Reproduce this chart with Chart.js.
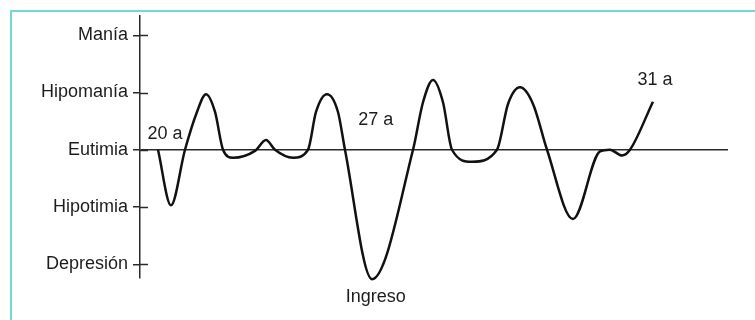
<!DOCTYPE html>
<html>
<head>
<meta charset="utf-8">
<script src="https://cdn.jsdelivr.net/npm/chart.js@4"></script>
<style>
  html, body { margin: 0; padding: 0; background: #fff; }
  #wrap { position: relative; width: 755px; height: 320px; overflow: hidden; }
  #frame { position: absolute; left: 10px; top: 10px; right: -10px; bottom: -10px;
           border-top: 2px solid #72d9d8; border-left: 2px solid #72d9d8; }
  canvas { position: absolute; left: 0; top: 0; }
</style>
</head>
<body>
<div id="wrap">
  <div id="frame"></div>
  <canvas id="c" width="755" height="320"></canvas>
</div>
<script>
// estados de ánimo (eje y)
const moodLevels = [-2, -1, 0, 1, 2];
const moodLabels = ['Depresión', 'Hipotimia', 'Eutimia', 'Hipomanía', 'Manía'];

// curva del curso vital (x: tiempo relativo 0-100, y: nivel de ánimo)
const timeX = [3.06, 5.27, 7.65, 9.69, 11.22, 12.76, 14.12, 15.82, 19.56, 21.43, 22.96,
               26.02, 28.57, 29.93, 31.80, 33.67, 34.86, 39.46, 46.43, 48.13, 49.83, 51.53,
               53.06, 56.46, 60.71, 62.59, 64.63, 66.84, 69.22, 73.64, 78.23, 79.93, 81.97,
               83.33, 87.24];
const moodY = [0, -0.97, 0, 0.66, 0.97, 0.66, 0, -0.14, -0.02, 0.17, 0,
               -0.14, 0, 0.66, 0.97, 0.66, 0, -2.26, 0, 0.83, 1.22, 0.83,
               0, -0.21, 0, 0.8, 1.09, 0.8, 0, -1.21, -0.03, 0, -0.10,
               0, 0.84];

// anotaciones
const noteText = ['20 a', '27 a', '31 a', 'Ingreso'];
const noteX = [4.25, 40.1, 87.6, 40.1];
const noteY = [0.28, 0.52, 1.22, -2.57];

const FONT = "'Liberation Sans', Arial, Helvetica, sans-serif";
const INK = '#1f1c1d';

const crossTicks = {
  id: 'crossTicks',
  afterDraw(chart) {
    const { ctx, scales: { x, y } } = chart;
    ctx.save();
    ctx.strokeStyle = '#2a2a2a';
    ctx.lineWidth = 1.5;
    y.ticks.forEach(t => {
      const py = Math.round(y.getPixelForValue(t.value)) + 0.5;
      ctx.beginPath();
      ctx.moveTo(y.right, py);
      ctx.lineTo(y.right + 8, py);
      ctx.stroke();
    });
    ctx.fillStyle = INK;
    ctx.font = '18px ' + FONT;
    ctx.textAlign = 'center';
    ctx.textBaseline = 'middle';
    noteText.forEach((s, i) => {
      ctx.fillText(s, x.getPixelForValue(noteX[i]), y.getPixelForValue(noteY[i]));
    });
    ctx.restore();
  }
};

new Chart(document.getElementById('c'), {
  type: 'line',
  data: {
    datasets: [{
      data: timeX.map((v, i) => ({ x: v, y: moodY[i] })),
      borderColor: '#111',
      borderWidth: 2.5,
      pointRadius: 0,
      cubicInterpolationMode: 'monotone',
      fill: false,
      clip: false
    }]
  },
  options: {
    responsive: false,
    animation: false,
    events: [],
    layout: { padding: { left: 0, right: 27, top: 12, bottom: 42 } },
    plugins: { legend: { display: false }, tooltip: { enabled: false } },
    scales: {
      x: { type: 'linear', min: 0, max: 100, display: false },
      y: {
        type: 'linear', min: -2.24, max: 2.34,
        afterBuildTicks(scale) { scale.ticks = moodLevels.map(v => ({ value: v })); },
        afterFit(scale) { scale.width = 140; },
        ticks: {
          padding: 5,
          color: INK,
          font: { family: FONT, size: 18 },
          callback: v => moodLabels[moodLevels.indexOf(v)]
        },
        grid: {
          tickLength: 7,
          lineWidth: 1.5,
          color: c => (c.tick && c.tick.value === 0) ? '#2a2a2a' : 'rgba(0,0,0,0)',
          tickColor: '#2a2a2a'
        },
        border: { display: true, color: '#2a2a2a', width: 1.5 }
      }
    }
  },
  plugins: [crossTicks]
});
</script>
</body>
</html>
